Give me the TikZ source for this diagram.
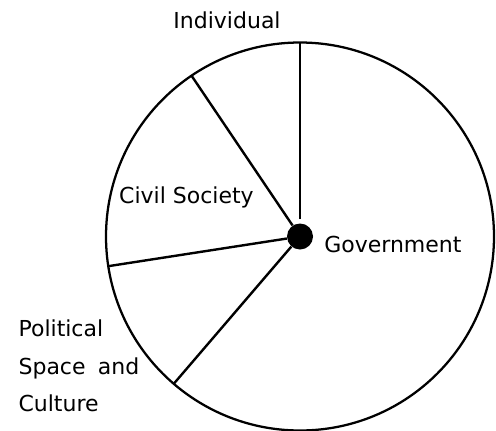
\documentclass[tikz,border=0pt]{standalone}
\usepackage{fontspec}
\setmainfont{DejaVu Sans}
\usetikzlibrary{calc}

\begin{document}
\begin{tikzpicture}[x = 0.75pt, y = 0.75pt,
    rim/.style = {line width = 1.7pt},
    spoke/.style = {line width = 1.8pt},
    lbl/.style = {font = \fontsize{16.5pt}{28.2pt}\selectfont, inner sep = 0pt}]
        \useasboundingbox (0,0) rectangle (496,430);
        \begin{scope}[shift = {(300,193.5)}]
          \draw[rim] (0,0) circle (194);
          \node[circle, fill = black, inner sep = 0pt, minimum size = 19.5pt] (hub) at (0,0) {};
          \coordinate (top) at (90:194);
          \coordinate (civ) at (124:194);
          \coordinate (pol) at (188.8:194);
          \coordinate (cul) at (229.4:194);
          \draw[spoke, shorten <= 3pt] (hub) -- (top);
          \draw[spoke] (hub) -- (civ);
          \draw[spoke] (hub) -- (pol);
          \draw[spoke] (hub) -- (cul);
        \end{scope}
        \node[lbl, anchor = base] (individual) at (227, 401.7) {Individual};
        \node[lbl, anchor = base] (civil) at (186.5, 227) {Civil Society};
        \node[lbl, anchor = base west] (government) at (324, 178) {Government};
        % the base of a node with several lines is its last line
        \node[lbl, anchor = base west, align = left] (space) at (18.3, 18.3) {Political\\Space\hspace{4pt} and\\Culture};
      \end{tikzpicture}
\end{document}
